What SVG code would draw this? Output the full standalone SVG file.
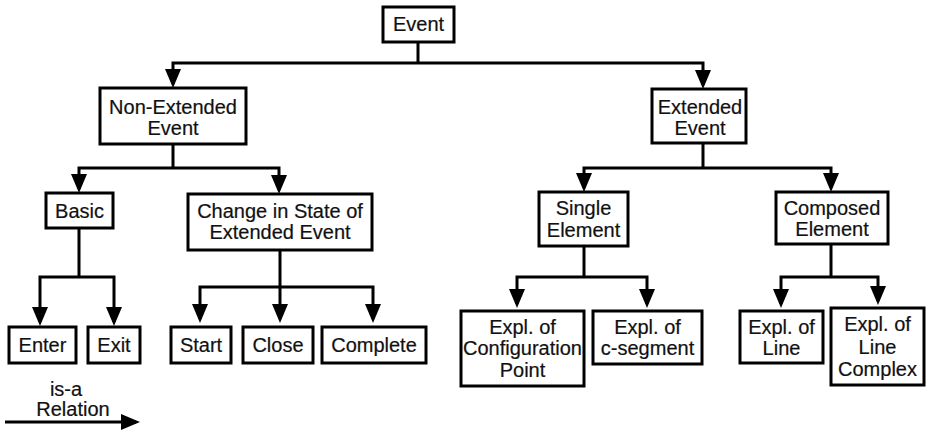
<svg xmlns="http://www.w3.org/2000/svg" width="926" height="431" viewBox="0 0 926 431">
<style>
.box{fill:#fff;stroke:#000;stroke-width:3}
.t{font-family:"Liberation Sans",Arial,sans-serif;font-size:20px;fill:#111;text-anchor:middle;stroke:#111;stroke-width:0.2}
.c{fill:none;stroke:#000;stroke-width:3;marker-end:url(#ah)}
.l{fill:none;stroke:#000;stroke-width:3}
</style>
<defs>
<marker id="ah" markerUnits="userSpaceOnUse" markerWidth="22" markerHeight="18" refX="15" refY="8" orient="auto">
<path d="M0,0 L19,8 L0,16 z" fill="#000"/>
</marker>
</defs>
<rect width="926" height="431" fill="#fff"/>
<g id="connectors">
<path class="l" d="M418,42 V63"/>
<path class="c" d="M418,63 H173 V84"/>
<path class="c" d="M418,63 H703 V85"/>
<path class="l" d="M173,144 V168"/>
<path class="c" d="M173,168 H79 V189"/>
<path class="c" d="M173,168 H279 V190"/>
<path class="l" d="M79,228 V277"/>
<path class="c" d="M79,277 H40 V322"/>
<path class="c" d="M79,277 H114 V322"/>
<path class="l" d="M280,250 V287"/>
<path class="c" d="M280,287 H200 V319"/>
<path class="c" d="M280,287 V319"/>
<path class="c" d="M280,287 H373 V319"/>
<path class="l" d="M703,143 V168"/>
<path class="c" d="M703,168 H584 V188"/>
<path class="c" d="M703,168 H831 V188"/>
<path class="l" d="M584,246 V277"/>
<path class="c" d="M584,277 H517 V304"/>
<path class="c" d="M584,277 H647 V304"/>
<path class="l" d="M831,244 V277"/>
<path class="c" d="M831,277 H781 V304"/>
<path class="c" d="M831,277 H878 V301"/>
<path class="c" d="M5,422 H136"/>
</g>
<g id="event"><rect class="box" x="383" y="7" width="71" height="35"/><text class="t" x="418.5" y="31">Event</text></g>
<g id="non-extended"><rect class="box" x="100" y="88" width="146" height="56"/><text class="t" x="173" y="114">Non-Extended</text><text class="t" x="173" y="135">Event</text></g>
<g id="extended"><rect class="box" x="652" y="89" width="94" height="54"/><text class="t" x="700" y="114">Extended</text><text class="t" x="700" y="135">Event</text></g>
<g id="basic"><rect class="box" x="46" y="193" width="67" height="35"/><text class="t" x="79.5" y="218">Basic</text></g>
<g id="change"><rect class="box" x="188" y="194" width="184" height="56"/><text class="t" x="280" y="218">Change in State of</text><text class="t" x="280" y="239">Extended Event</text></g>
<g id="enter"><rect class="box" x="9" y="327" width="67" height="36"/><text class="t" x="42.5" y="352">Enter</text></g>
<g id="exit"><rect class="box" x="88" y="327" width="52" height="36"/><text class="t" x="114" y="352">Exit</text></g>
<g id="start"><rect class="box" x="171" y="327" width="60" height="36"/><text class="t" x="201" y="352">Start</text></g>
<g id="close"><rect class="box" x="243" y="327" width="70" height="36"/><text class="t" x="278" y="352">Close</text></g>
<g id="complete"><rect class="box" x="322" y="327" width="104" height="36"/><text class="t" x="374" y="352">Complete</text></g>
<g id="single"><rect class="box" x="539" y="192" width="89" height="54"/><text class="t" x="583.5" y="215">Single</text><text class="t" x="583.5" y="237">Element</text></g>
<g id="composed"><rect class="box" x="776" y="192" width="112" height="52"/><text class="t" x="832" y="215">Composed</text><text class="t" x="832" y="236">Element</text></g>
<g id="config"><rect class="box" x="461" y="311" width="123" height="75"/><text class="t" x="522.5" y="334">Expl. of</text><text class="t" x="522.5" y="355">Configuration</text><text class="t" x="522.5" y="377">Point</text></g>
<g id="csegment"><rect class="box" x="593" y="311" width="109" height="53"/><text class="t" x="647.5" y="334">Expl. of</text><text class="t" x="647.5" y="355">c-segment</text></g>
<g id="line"><rect class="box" x="740" y="311" width="83" height="52"/><text class="t" x="781.5" y="334">Expl. of</text><text class="t" x="781.5" y="355">Line</text></g>
<g id="linecomplex"><rect class="box" x="831" y="308" width="93" height="77"/><text class="t" x="877.5" y="331">Expl. of</text><text class="t" x="877.5" y="354">Line</text><text class="t" x="877.5" y="376">Complex</text></g>
<g id="legend"><text class="t" x="66" y="396">is-a</text><text class="t" x="73" y="416">Relation</text></g>
</svg>
